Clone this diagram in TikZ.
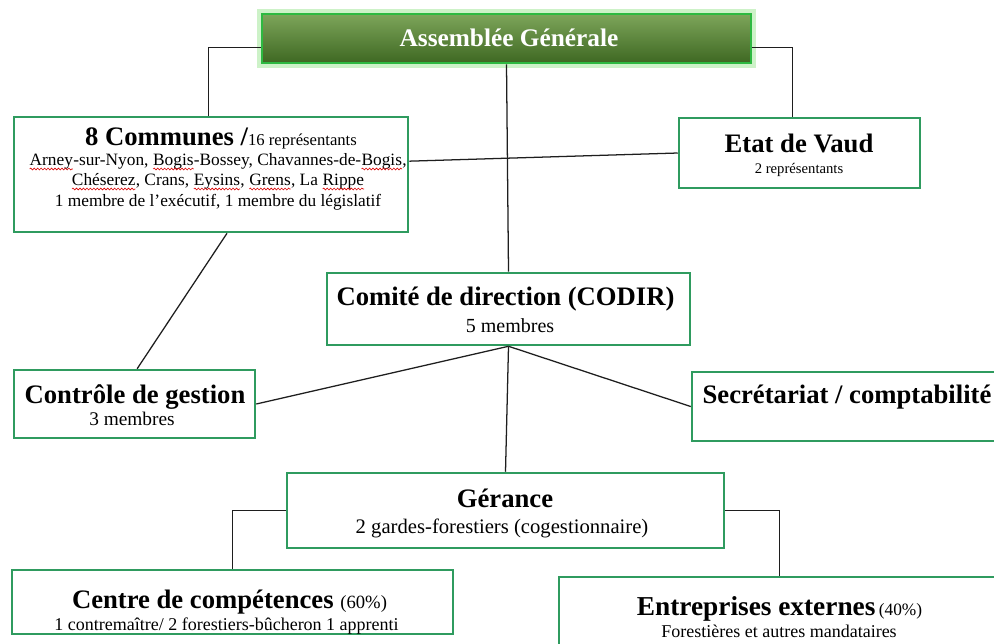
\documentclass[tikz,border=0pt]{standalone}
\usepackage{fontspec}
\setmainfont{Liberation Serif}
\usetikzlibrary{calc,decorations.pathmorphing}
\definecolor{boxgreen}{RGB}{47,155,95}
\definecolor{agtop}{RGB}{125,165,90}
\definecolor{agbot}{RGB}{62,104,34}
\definecolor{agborder}{RGB}{45,185,65}
\definecolor{agglow}{RGB}{205,242,200}
\definecolor{lineblack}{RGB}{30,30,30}
\newcommand\spell[1]{\tikz[baseline=(sw.base), x=1pt, y=1pt]{%
  \node[inner sep=0pt, outer sep=0pt, anchor=base, text=black] (sw) at (0,0) {#1};%
  \draw[red!85!black, line width=0.45pt, decorate,
        decoration={snake, amplitude=0.7pt, segment length=2.6pt}]
        ([yshift=-3pt]sw.base west) -- ([yshift=-3pt]sw.base east);}}
\begin{document}
\begin{tikzpicture}[x=0.75pt,y=-0.75pt,
  orgbox/.style={draw=boxgreen, line width=1.9pt, fill=white, inner sep=0pt},
  agbox/.style={draw=agborder, line width=2.2pt, top color=agtop, bottom color=agbot,
                inner sep=0pt, preaction={draw=agglow, line width=7pt}},
  conn/.style={draw=lineblack, line width=0.95pt},
  hdtxt/.style={font=\fontsize{20}{24}\selectfont\bfseries, anchor=base, inner sep=0pt},
  agtxt/.style={font=\fontsize{19}{23}\selectfont\bfseries, text=white, anchor=base, inner sep=0pt},
  smtxt/.style={font=\fontsize{13}{15}\selectfont, anchor=base, inner sep=0pt}]
\fill[white] (0,0) rectangle (994,643);
\useasboundingbox (0,0) rectangle (994,643);
\clip (0,0) rectangle (994,643);

% boxes
\node[agbox, minimum width=489*0.75pt, minimum height=49*0.75pt] (ag) at (506.5,38.5) {};
\node[orgbox, minimum width=394*0.75pt, minimum height=115*0.75pt] (com) at (211,174.5) {};
\node[orgbox, minimum width=241*0.75pt, minimum height=70*0.75pt] (etat) at (799.5,153) {};
\node[orgbox, minimum width=363*0.75pt, minimum height=72*0.75pt] (codir) at (508.5,309) {};
\node[orgbox, minimum width=241*0.75pt, minimum height=68*0.75pt] (ctrl) at (134.5,404) {};
\node[orgbox, minimum width=310*0.75pt, minimum height=69*0.75pt] (secr) at (847,406.5) {};
\node[orgbox, minimum width=437*0.75pt, minimum height=75*0.75pt] (ger) at (505.5,510.5) {};
\node[orgbox, minimum width=441*0.75pt, minimum height=64*0.75pt] (ctr) at (232.5,602) {};
\node[orgbox, minimum width=441*0.75pt, minimum height=78*0.75pt] (ent) at (779.5,616) {};

% connectors
\draw[conn] ([yshift=-7pt]ag.west) -| ([xshift=-2pt]com.north);
\draw[conn] ([yshift=-7pt]ag.east) -| ([xshift=-5pt]etat.north);
\draw[conn] (ag.south) -- (codir.north);
\draw[conn] ([yshift=10pt]com.east) -- (etat.west);
\draw[conn] ([xshift=12pt]com.south) -- ([xshift=2pt]ctrl.north);
\draw[conn] (codir.south) -- (ctrl.east);
\draw[conn] (codir.south) -- (secr.west);
\draw[conn] (codir.south) -- (ger.north);
\draw[conn] (ger.west) -| (ctr.north);
\draw[conn] (ger.east) -| (ent.north);

% texts
\node[agtxt] (tag) at (509,46) {Assemblée Générale};

\node[anchor=base, inner sep=0pt] (tcom1) at (221,145)
  {{\fontsize{20}{24}\selectfont\bfseries 8 Communes /}{\fontsize{12.5}{15}\selectfont 16 représentants}};
\node[smtxt] (tcom2) at (218,165) {\spell{Arney}-sur-Nyon, \spell{Bogis}-Bossey, Chavannes-de-\spell{Bogis},};
\node[smtxt] (tcom3) at (218,185) {\spell{Chéserez}, Crans, \spell{Eysins}, \spell{Grens}, La \spell{Rippe}};
\node[smtxt] (tcom4) at (218,206) {1 membre de l’exécutif, 1 membre du législatif};

\node[hdtxt] (tetat1) at (799,152) {Etat de Vaud};
\node[smtxt, font=\fontsize{11}{14}\selectfont] (tetat2) at (799,173) {2 représentants};

\node[hdtxt] (tcodir1) at (505.5,305) {Comité de direction (CODIR)};
\node[smtxt, font=\fontsize{15}{18}\selectfont] (tcodir2) at (510,332) {5 membres};

\node[hdtxt] (tctrl1) at (135,403) {Contrôle de gestion};
\node[smtxt, font=\fontsize{14.5}{17}\selectfont] (tctrl2) at (132,425) {3 membres};

\node[hdtxt] (tsecr) at (847,403) {Secrétariat / comptabilité};

\node[hdtxt] (tger1) at (505,507) {Gérance};
\node[smtxt, font=\fontsize{15.5}{18}\selectfont] (tger2) at (502,533) {2 gardes-forestiers (cogestionnaire)};

\node[anchor=base, inner sep=0pt] (tctr1) at (229.5,608)
  {{\fontsize{20}{24}\selectfont\bfseries Centre de compétences}\ \ {\fontsize{14}{17}\selectfont (60\%)}};
\node[smtxt, font=\fontsize{13.5}{16}\selectfont] (tctr2) at (226.5,630) {1 contremaître/ 2 forestiers-bûcheron 1 apprenti};

\node[anchor=base, inner sep=0pt] (tent1) at (779.5,615)
  {{\fontsize{20.5}{24}\selectfont\bfseries Entreprises externes}\ {\fontsize{13}{16}\selectfont(40\%)}};
\node[smtxt, font=\fontsize{13.5}{16}\selectfont] (tent2) at (779,637) {Forestières et autres mandataires};
\end{tikzpicture}
\end{document}
